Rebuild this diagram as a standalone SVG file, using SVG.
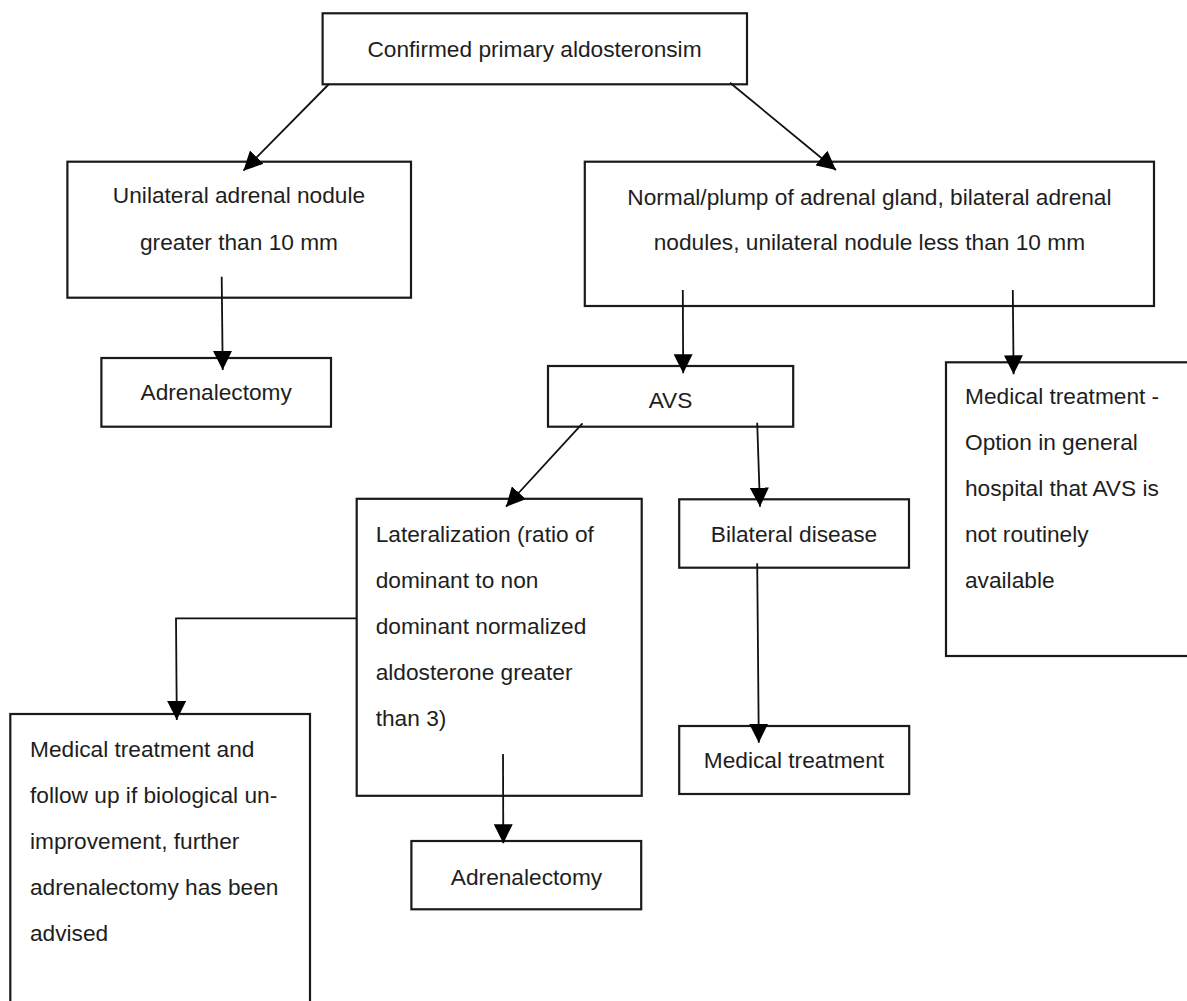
<svg xmlns="http://www.w3.org/2000/svg" width="1187" height="1001" viewBox="0 0 1187 1001">
<defs>
<style>
.box{fill:#fff;stroke:#1a1a1a;stroke-width:2.2}
.t{font-family:"Liberation Sans",Arial,sans-serif;font-size:22.7px;fill:#1e1e1e}
.c{text-anchor:middle}
.ln{fill:none;stroke:#111;stroke-width:1.8}
</style>
<marker id="ah" markerUnits="userSpaceOnUse" markerWidth="19" markerHeight="19" refX="18" refY="9" orient="auto" viewBox="0 0 18 18">
<path d="M0,0 L18,9 L0,18 Z" fill="#000"/>
</marker>
</defs>
<rect width="1187" height="1001" fill="#fff"/>

<g id="n-top">
<rect class="box" x="322.6" y="13.3" width="424.4" height="71"/>
<text class="t c" x="534.5" y="56.5">Confirmed primary aldosteronsim</text>
</g>
<g id="n-unilateral">
<rect class="box" x="67.4" y="161.7" width="343.6" height="136"/>
<text class="t c" x="239" y="203">Unilateral adrenal nodule</text>
<text class="t c" x="239" y="249.5">greater than 10 mm</text>
</g>
<g id="n-normal">
<rect class="box" x="584.8" y="161.7" width="569.2" height="144.3"/>
<text class="t c" x="869.4" y="204.5">Normal/plump of adrenal gland, bilateral adrenal</text>
<text class="t c" x="869.4" y="249.5">nodules, unilateral nodule less than 10 mm</text>
</g>
<g id="n-adrenalectomy1">
<rect class="box" x="101.4" y="358" width="229.6" height="68.7"/>
<text class="t c" x="216.2" y="399.7">Adrenalectomy</text>
</g>
<g id="n-avs">
<rect class="box" x="548" y="366" width="245.2" height="60.7"/>
<text class="t c" x="670.5" y="408">AVS</text>
</g>
<g id="n-medical-right">
<rect class="box" x="946" y="362.3" width="250" height="293.7"/>
<text class="t" x="965" y="404">Medical treatment -</text>
<text class="t" x="965" y="450">Option in general</text>
<text class="t" x="965" y="496">hospital that AVS is</text>
<text class="t" x="965" y="542">not routinely</text>
<text class="t" x="965" y="588">available</text>
</g>
<g id="n-lateralization">
<rect class="box" x="356.7" y="498.8" width="285" height="297"/>
<text class="t" x="375.7" y="541.5">Lateralization (ratio of</text>
<text class="t" x="375.7" y="587.5">dominant to non</text>
<text class="t" x="375.7" y="633.5">dominant normalized</text>
<text class="t" x="375.7" y="679.5">aldosterone greater</text>
<text class="t" x="375.7" y="725.5">than 3)</text>
</g>
<g id="n-bilateral">
<rect class="box" x="679.2" y="499.3" width="229.8" height="68.4"/>
<text class="t c" x="794" y="541.5">Bilateral disease</text>
</g>
<g id="n-medical-left">
<rect class="box" x="10.3" y="714" width="299.7" height="300"/>
<text class="t" x="30" y="756.5">Medical treatment and</text>
<text class="t" x="30" y="802.5">follow up if biological un-</text>
<text class="t" x="30" y="848.5">improvement, further</text>
<text class="t" x="30" y="894.5">adrenalectomy has been</text>
<text class="t" x="30" y="940.5">advised</text>
</g>
<g id="n-medical-mid">
<rect class="box" x="679.2" y="726" width="230" height="68"/>
<text class="t c" x="794" y="768">Medical treatment</text>
</g>
<g id="n-adrenalectomy2">
<rect class="box" x="411.4" y="841" width="229.8" height="68.3"/>
<text class="t c" x="526.5" y="884.5">Adrenalectomy</text>
</g>

<g id="connectors">
<line class="ln" x1="329" y1="84" x2="243.4" y2="170.7" marker-end="url(#ah)"/>
<line class="ln" x1="730" y1="82.7" x2="836" y2="170" marker-end="url(#ah)"/>
<line class="ln" x1="221.7" y1="276.7" x2="222.7" y2="370" marker-end="url(#ah)"/>
<line class="ln" x1="682.8" y1="290" x2="683.2" y2="373.3" marker-end="url(#ah)"/>
<line class="ln" x1="1012.8" y1="290" x2="1013.6" y2="374.3" marker-end="url(#ah)"/>
<line class="ln" x1="582.5" y1="423.3" x2="506" y2="506.7" marker-end="url(#ah)"/>
<line class="ln" x1="757.2" y1="422.7" x2="760" y2="506.7" marker-end="url(#ah)"/>
<polyline class="ln" points="356.7,618.3 176,618.3 176.8,720" marker-end="url(#ah)"/>
<line class="ln" x1="503" y1="754" x2="503.3" y2="843.3" marker-end="url(#ah)"/>
<line class="ln" x1="757.2" y1="563.3" x2="758.8" y2="742.7" marker-end="url(#ah)"/>
</g>
</svg>
